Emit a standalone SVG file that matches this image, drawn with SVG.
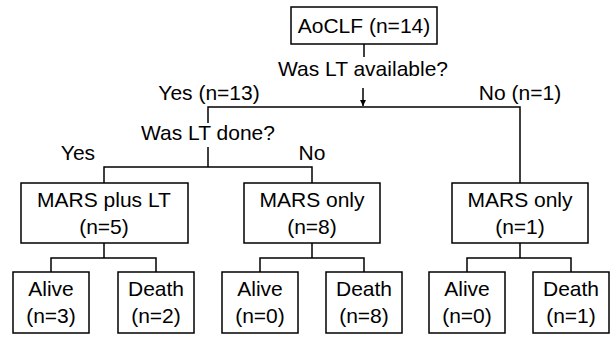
<svg xmlns="http://www.w3.org/2000/svg" width="616" height="338" viewBox="0 0 616 338">
<defs>
<style>
.b{fill:#fff;stroke:#000;stroke-width:1.5}
.l{fill:none;stroke:#000;stroke-width:1.5}
text{font-family:"Liberation Sans",Arial,sans-serif;font-size:21px;fill:#000;text-anchor:middle}
</style>
<marker id="ah" viewBox="0 0 10 10" refX="10" refY="5" markerWidth="6" markerHeight="6" markerUnits="userSpaceOnUse" orient="auto"><path d="M0,0L10,5L0,10z" fill="#000"/></marker>
</defs>
<rect width="616" height="338" fill="#fff"/>
<g id="connectors">
<path class="l" d="M364,44V57"/>
<path class="l" d="M363,88V106" marker-end="url(#ah)"/>
<path class="l" d="M208,123V107H520V183"/>
<path class="l" d="M208,147V167M104,183V167H312V183"/>
<path class="l" d="M104,243V258M51,272V258H156V272"/>
<path class="l" d="M312,243V258M260,272V258H364V272"/>
<path class="l" d="M520,243V258M467,272V258H571V272"/>
</g>
<g id="labels">
<text x="363" y="76">Was LT available?</text>
<text x="209" y="100">Yes (n=13)</text>
<text x="520" y="100">No (n=1)</text>
<text x="208" y="140">Was LT done?</text>
<text x="78" y="160">Yes</text>
<text x="312" y="160">No</text>
</g>
<g id="root"><rect class="b" x="291" y="7" width="146" height="37"/><text x="364" y="33">AoCLF (n=14)</text></g>
<g id="marsLT"><rect class="b" x="21" y="183" width="167" height="60"/><text x="104" y="207">MARS plus LT</text><text x="104" y="234">(n=5)</text></g>
<g id="marsOnly1"><rect class="b" x="244" y="183" width="136" height="60"/><text x="312" y="207">MARS only</text><text x="312" y="234">(n=8)</text></g>
<g id="marsOnly2"><rect class="b" x="452" y="183" width="136" height="60"/><text x="520" y="207">MARS only</text><text x="520" y="234">(n=1)</text></g>
<g id="alive1"><rect class="b" x="13" y="272" width="76" height="61"/><text x="51" y="296">Alive</text><text x="51" y="323">(n=3)</text></g>
<g id="death1"><rect class="b" x="118" y="272" width="76" height="61"/><text x="156" y="296">Death</text><text x="156" y="323">(n=2)</text></g>
<g id="alive2"><rect class="b" x="222" y="272" width="76" height="61"/><text x="260" y="296">Alive</text><text x="260" y="323">(n=0)</text></g>
<g id="death2"><rect class="b" x="326" y="272" width="76" height="61"/><text x="364" y="296">Death</text><text x="364" y="323">(n=8)</text></g>
<g id="alive3"><rect class="b" x="429" y="272" width="76" height="61"/><text x="467" y="296">Alive</text><text x="467" y="323">(n=0)</text></g>
<g id="death3"><rect class="b" x="533" y="272" width="76" height="61"/><text x="571" y="296">Death</text><text x="571" y="323">(n=1)</text></g>
</svg>
